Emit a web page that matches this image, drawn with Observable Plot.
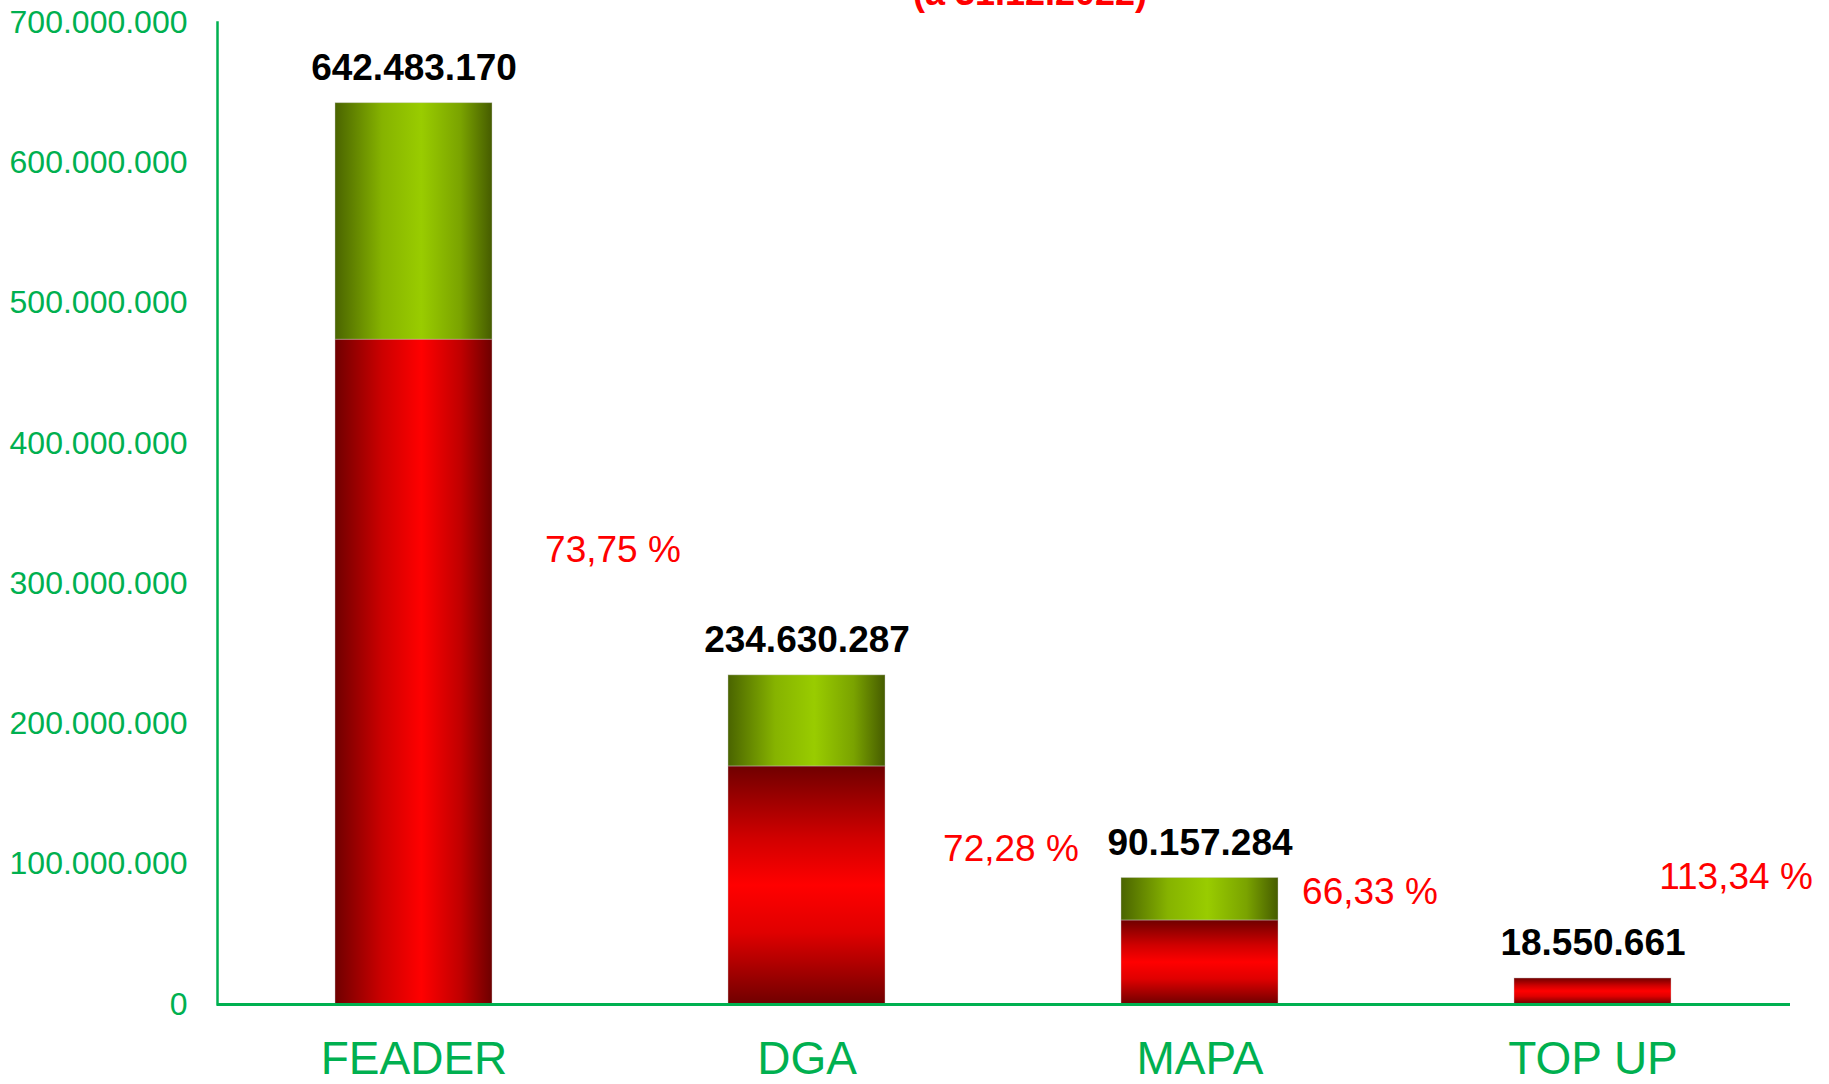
<!DOCTYPE html>
<html>
<head>
<meta charset="utf-8">
<script src="https://cdn.jsdelivr.net/npm/d3@7"></script>
<script src="https://cdn.jsdelivr.net/npm/@observablehq/plot@0.6"></script>
<style>
  html, body { margin: 0; padding: 0; background: #ffffff; overflow: hidden; }
  body { font-family: "Liberation Sans", Arial, sans-serif; }
  #wrap { position: relative; width: 1829px; height: 1084px; overflow: hidden; }
  #title { position: absolute; top: -25px; left: 1030px; transform: translateX(-50%);
           white-space: nowrap; color: #ff0000; font-weight: bold; font-size: 36px; line-height: 36px; }
  #chart { position: absolute; top: 0; left: 0; }
</style>
</head>
<body>
<div id="wrap">
  <div id="chart"></div>
  <div id="title">(a 31.12.2022)</div>
</div>
<script>
// ---- data ----
const categories = ["FEADER", "DGA", "MAPA", "TOP UP"];
const totals = [642483170, 234630287, 90157284, 18550661];
const executed = [473830000, 169590000, 59800000, 18550661];
const percentLabels = ["73,75 %", "72,28 %", "66,33 %", "113,34 %"];
const yTicks = [0, 100000000, 200000000, 300000000, 400000000, 500000000, 600000000, 700000000];

// ---- layout / style ----
const GREEN = "#00b050";
const pctLabelY = [323600000, 110500000, 79800000, 90500000]; // label anchor heights (value units)
const pctLabelDx = [199, 204, 170, 143];
const horizontalRed = new Set(["FEADER"]);

const it = d3.formatLocale({decimal: ",", thousands: ".", grouping: [3], currency: ["", "€"]});
const fmt = it.format(",d");

const segments = [];
categories.forEach((c, i) => {
  segments.push({cat: c, y1: 0, y2: Math.min(executed[i], totals[i]), kind: horizontalRed.has(c) ? "redH" : "redV"});
  if (totals[i] > executed[i]) segments.push({cat: c, y1: executed[i], y2: totals[i], kind: "green"});
});
const totalRows = categories.map((c, i) => ({cat: c, total: totals[i], label: fmt(totals[i])}));

const pctMarks = categories.map((c, i) =>
  Plot.text([{cat: c, y: pctLabelY[i], t: percentLabels[i]}], {
    x: "cat", y: "y", text: "t", dx: pctLabelDx[i], fill: "#ff0000",
    fontSize: 37, lineAnchor: "middle", textAnchor: "middle"
  })
);

const barStyle = {x: "cat", y1: "y1", y2: "y2", stroke: "#d0d0d0", strokeOpacity: 0.5, strokeWidth: 0.8};

const svg = Plot.plot({
  width: 1829,
  height: 1084,
  marginLeft: 217,
  marginRight: 39,
  marginTop: 22,
  marginBottom: 80,
  style: {fontFamily: "'Liberation Sans', Arial, sans-serif", background: "#ffffff"},
  x: {type: "band", domain: categories, paddingInner: 0.6, paddingOuter: 0.3, label: null},
  y: {domain: [0, 700000000], label: null},
  marks: [
    Plot.barY(segments.filter(d => d.kind === "green"), {...barStyle, fill: "url(#gGreen)"}),
    Plot.barY(segments.filter(d => d.kind === "redH"), {...barStyle, fill: "url(#gRedH)"}),
    Plot.barY(segments.filter(d => d.kind === "redV"), {...barStyle, fill: "url(#gRedV)"}),
    Plot.axisY({ticks: yTicks, tickFormat: d => fmt(d), tickSize: 0, tickPadding: 30,
                fontSize: 32, fill: GREEN, label: null}),
    Plot.axisX({tickSize: 0, tickPadding: 37, fontSize: 46, fill: GREEN, label: null}),
    Plot.frame({anchor: "left", stroke: GREEN, strokeWidth: 2.5}),
    Plot.ruleY([0], {stroke: GREEN, strokeWidth: 3}),
    Plot.text(totalRows, {x: "cat", y: "total", text: "label", dy: -23, lineAnchor: "bottom",
                          fontWeight: "bold", fontSize: 37, fill: "#000000"}),
    ...pctMarks
  ]
});

const defs = d3.select(svg).insert("defs", ":first-child");
function grad(id, horizontal, stops) {
  const g = defs.append("linearGradient").attr("id", id)
    .attr("x1", 0).attr("y1", 0).attr("x2", horizontal ? 1 : 0).attr("y2", horizontal ? 0 : 1);
  stops.forEach(([o, c]) => g.append("stop").attr("offset", o).attr("stop-color", c));
}
grad("gGreen", true, [[0, "#4a6400"], [0.3, "#86b300"], [0.55, "#99cc00"], [0.8, "#7aa300"], [1, "#465c00"]]);
grad("gRedH", true, [[0, "#700000"], [0.3, "#cc0000"], [0.55, "#ff0000"], [0.8, "#c00000"], [1, "#6e0000"]]);
grad("gRedV", false, [[0, "#700000"], [0.3, "#d00000"], [0.5, "#ff0000"], [0.7, "#e00000"], [1, "#700000"]]);

document.getElementById("chart").appendChild(svg);
</script>
</body>
</html>
